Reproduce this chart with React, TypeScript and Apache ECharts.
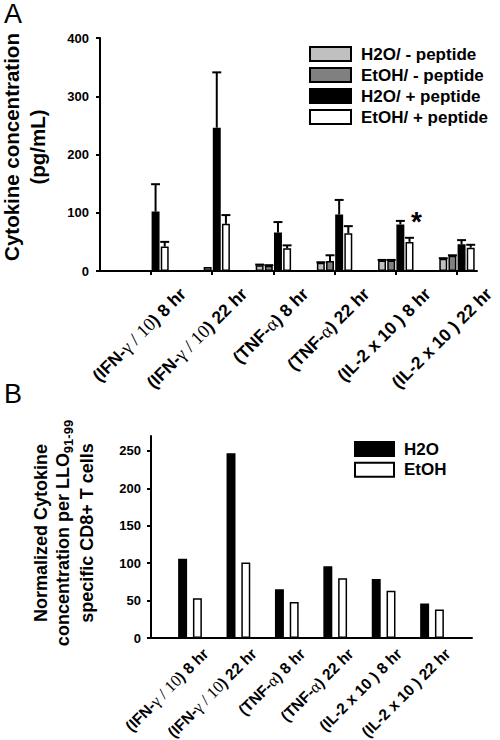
import React, { useEffect, useRef } from 'react';
import * as echarts from 'echarts';

// ---------- data ----------
const categories = [
  '(IFN-γ / 10) 8 hr',
  '(IFN-γ / 10) 22 hr',
  '(TNF-α) 8 hr',
  '(TNF-α) 22 hr',
  '(IL-2 x 10 ) 8 hr',
  '(IL-2 x 10 ) 22 hr',
];
const categoryIndex = [1, 2, 3, 4, 5, 6];

const seriesNamesA = ['H2O/ - peptide', 'EtOH/ - peptide', 'H2O/ + peptide', 'EtOH/ + peptide'];
const h2oNoPeptide = [1, 1, 10, 14, 18, 21];
const h2oNoPeptideErr = [1, 1, 11, 15, 19, 22];
const etohNoPeptide = [1, 7, 9, 17, 18, 26];
const etohNoPeptideErr = [1, 7, 10, 27, 19, 27];
const h2oPeptide = [102, 246, 66, 97, 80, 46];
const h2oPeptideErr = [149, 341, 84, 122, 86, 53];
const etohPeptide = [42, 81, 39, 65, 50, 40];
const etohPeptideErr = [50, 96, 44, 77, 57, 45];
const yTicksA = [0, 100, 200, 300, 400];
const significantIndex = 4;

const seriesNamesB = ['H2O', 'EtOH'];
const normH2O = [106, 247, 65, 96, 79, 46];
const normEtOH = [53, 101, 48, 80, 63, 38];
const yTicksB = [0, 50, 100, 150, 200, 250];

// ---------- styles / layout ----------
const SANS = 'Liberation Sans';
const SERIF = 'Liberation Serif';
const colorsA = ['#c0c0c0', '#808080', '#000000', '#ffffff'];
const colorsB = ['#000000', '#ffffff'];
const BAR_W_A = 0.13;
const BAR_GAP_A = 0.15;

// panel A x scale: 61.2 px per category, first category 51 px from the y axis
const A_MIN = 0.1667;
const A_MAX = 6.327;
const A_LABEL_SHIFT = 0.52; // labels sit about half a category right of their tick
// panel B x scale: 48.4 px per category
const B_MIN = 0.194;
const B_MAX = 6.826;
const B_LABEL_SHIFT = 0.32;

const richLabel = (s: string) => '{b|' + s.replace(/(γ \/ 10|α)/, '}{s|$1}{b|') + '}';
const makeRich = (size: number) => ({
  b: { fontFamily: SANS, fontWeight: 'bold', fontSize: size, color: '#000' },
  s: { fontFamily: SERIF, fontWeight: 'normal', fontSize: size + 1, color: '#000' },
});
const axisLineStyle = { color: '#000', width: 2 };

const valuesA = [h2oNoPeptide, etohNoPeptide, h2oPeptide, etohPeptide];
const errsA = [h2oNoPeptideErr, etohNoPeptideErr, h2oPeptideErr, etohPeptideErr];

const errData: number[][] = [];
valuesA.forEach((vals, j) => {
  vals.forEach((v, i) => {
    if (errsA[j][i] > v) errData.push([categoryIndex[i], v, errsA[j][i], j]);
  });
});

const barSeriesA = seriesNamesA.map((name, j) => ({
  name,
  type: 'bar',
  xAxisIndex: 0,
  yAxisIndex: 0,
  barWidth: BAR_W_A * 100 + '%',
  barGap: BAR_GAP_A * 100 + '%',
  itemStyle: { color: colorsA[j], borderColor: '#000', borderWidth: 1.5 },
  data: valuesA[j].map((v, i) => {
    const item: any = { value: [categoryIndex[i], v] };
    if (j === 3 && i === significantIndex) {
      item.label = {
        show: true,
        position: 'top',
        formatter: '*',
        fontFamily: SANS,
        fontWeight: 'bold',
        fontSize: 28,
        color: '#000',
        offset: [7, -1],
      };
    }
    return item;
  }),
}));

const barSeriesB = seriesNamesB.map((name, j) => ({
  name,
  type: 'bar',
  xAxisIndex: 1,
  yAxisIndex: 1,
  barWidth: '18.5%',
  barGap: '65%',
  itemStyle: { color: colorsB[j], borderColor: '#000', borderWidth: 1.5 },
  data: [normH2O, normEtOH][j].map((v, i) => [categoryIndex[i], v]),
}));

const errorSeries = {
  type: 'custom',
  xAxisIndex: 0,
  yAxisIndex: 0,
  z: 5,
  encode: { x: 0, y: [1, 2] },
  data: errData,
  renderItem: (params: any, api: any) => {
    const x = api.value(0);
    const v = api.value(1);
    const e = api.value(2);
    const j = api.value(3);
    const band = api.size([1, 0])[0];
    const bw = band * BAR_W_A;
    const step = bw * (1 + BAR_GAP_A);
    const off = (j - 1.5) * step;
    const p0 = api.coord([x, v]);
    const p1 = api.coord([x, e]);
    const cx = p0[0] + off;
    return {
      type: 'group',
      children: [
        { type: 'line', shape: { x1: cx, y1: p0[1], x2: cx, y2: p1[1] }, style: { stroke: '#000', lineWidth: 2 } },
        { type: 'line', shape: { x1: cx - bw / 2 - 0.5, y1: p1[1], x2: cx + bw / 2 + 0.5, y2: p1[1] }, style: { stroke: '#000', lineWidth: 2 } },
      ],
    };
  },
};

const legendText = { fontFamily: SANS, fontSize: 17, fontWeight: 'bold', color: '#000', padding: [0, 0, 0, 5] };
const titleStyle = (size: number) => ({
  font: `bold ${size}px "Liberation Sans"`,
  fill: '#000',
  align: 'center',
  verticalAlign: 'middle',
  textAlign: 'center',
  textVerticalAlign: 'middle',
});

// label grids: same scale as the bar grids, but extended to the right so shifted labels stay in range
const A_PX = 377 / (A_MAX - A_MIN);
const B_PX = 321 / (B_MAX - B_MIN);
const A_LABEL_MIN = A_MIN - A_LABEL_SHIFT;
const A_LABEL_MAX = A_LABEL_MIN + 440 / A_PX;
const B_LABEL_MIN = B_MIN - B_LABEL_SHIFT;
const B_LABEL_MAX = B_LABEL_MIN + 369 / B_PX;

const hiddenAxis = {
  axisLine: { show: false },
  axisTick: { show: false },
  splitLine: { show: false },
};

const option: any = {
  animation: false,
  textStyle: { fontFamily: SANS },
  grid: [
    { left: 100, right: 23, top: 38, bottom: 469, outerBoundsMode: 'none' },
    { left: 151, right: 28, top: 436, bottom: 102, outerBoundsMode: 'none' },
    { left: 100, right: -40, top: 38, bottom: 469, outerBoundsMode: 'none' },
    { left: 151, right: -20, top: 436, bottom: 102, outerBoundsMode: 'none' },
  ],
  legend: [
    {
      data: seriesNamesA,
      orient: 'vertical',
      left: 309,
      top: 45.5,
      padding: 0,
      itemWidth: 41,
      itemHeight: 14,
      itemGap: 4,
      icon: 'rect',
      selectedMode: false,
      textStyle: legendText,
    },
    {
      data: seriesNamesB,
      orient: 'vertical',
      left: 354,
      top: 440.5,
      padding: 0,
      itemWidth: 39,
      itemHeight: 14,
      itemGap: 3.7,
      icon: 'rect',
      selectedMode: false,
      textStyle: legendText,
    },
  ],
  xAxis: [
    {
      gridIndex: 0,
      type: 'value',
      position: 'bottom',
      min: A_MIN,
      max: A_MAX,
      axisLine: { show: true, onZero: false, lineStyle: axisLineStyle },
      axisTick: { show: true, customValues: categoryIndex, length: 4, lineStyle: axisLineStyle },
      axisLabel: { show: false },
      splitLine: { show: false },
    },
    {
      gridIndex: 1,
      type: 'value',
      position: 'bottom',
      min: B_MIN,
      max: B_MAX,
      axisLine: { show: true, onZero: false, lineStyle: axisLineStyle },
      axisTick: { show: false },
      axisLabel: { show: false },
      splitLine: { show: false },
    },
    {
      gridIndex: 2,
      type: 'value',
      position: 'bottom',
      min: A_LABEL_MIN,
      max: A_LABEL_MAX,
      ...hiddenAxis,
      axisLabel: {
        customValues: categoryIndex,
        formatter: (v: number) => richLabel(categories[Math.round(v) - 1]),
        rotate: 45,
        margin: 20,
        rich: makeRich(17.5),
      },
    },
    {
      gridIndex: 3,
      type: 'value',
      position: 'bottom',
      min: B_LABEL_MIN,
      max: B_LABEL_MAX,
      ...hiddenAxis,
      axisLabel: {
        customValues: categoryIndex,
        formatter: (v: number) => richLabel(categories[Math.round(v) - 1]),
        rotate: 45,
        margin: 13,
        rich: makeRich(15.5),
      },
    },
  ],
  yAxis: [
    {
      gridIndex: 0,
      type: 'value',
      min: 0,
      max: 400,
      interval: 100,
      axisLine: { show: true, onZero: false, lineStyle: axisLineStyle },
      axisTick: { show: true, customValues: yTicksA, length: 4, lineStyle: axisLineStyle },
      axisLabel: { customValues: yTicksA, fontFamily: SANS, fontSize: 13, fontWeight: 'bold', color: '#000', margin: 11 },
      splitLine: { show: false },
    },
    {
      gridIndex: 1,
      type: 'value',
      min: 0,
      max: 270,
      axisLine: { show: true, onZero: false, lineStyle: axisLineStyle },
      axisTick: { show: true, customValues: yTicksB, length: 4, lineStyle: axisLineStyle },
      axisLabel: { customValues: yTicksB, fontFamily: SANS, fontSize: 13, fontWeight: 'bold', color: '#000', margin: 10 },
      splitLine: { show: false },
    },
    { gridIndex: 2, type: 'value', min: 0, max: 400, show: false },
    { gridIndex: 3, type: 'value', min: 0, max: 270, show: false },
  ],
  series: [...barSeriesA, errorSeries, ...barSeriesB],
  graphic: [
    { type: 'text', x: 4, y: 0, style: { text: 'A', font: '27px "Liberation Sans"', fill: '#000' } },
    { type: 'text', x: 4, y: 380, style: { text: 'B', font: '27px "Liberation Sans"', fill: '#000' } },
    { type: 'text', x: 11, y: 147, rotation: Math.PI / 2, style: { text: 'Cytokine concentration', ...titleStyle(20.5) } },
    { type: 'text', x: 37, y: 147, rotation: Math.PI / 2, style: { text: '(pg/mL)', ...titleStyle(20.5) } },
    { type: 'text', x: 41, y: 533, rotation: Math.PI / 2, style: { text: 'Normalized Cytokine', ...titleStyle(18) } },
    {
      type: 'text', x: 63, y: 533, rotation: Math.PI / 2,
      style: {
        text: '{b|concentration per LLO}{s|91-99}',
        fill: '#000', align: 'center', verticalAlign: 'middle', textAlign: 'center', textVerticalAlign: 'middle',
        rich: {
          b: { fontFamily: SANS, fontWeight: 'bold', fontSize: 18, lineHeight: 23, fill: '#000' },
          s: { fontFamily: SANS, fontWeight: 'bold', fontSize: 13, verticalAlign: 'bottom', fill: '#000' },
        },
      },
    },
    { type: 'text', x: 87, y: 533, rotation: Math.PI / 2, style: { text: 'specific CD8+ T cells', ...titleStyle(18) } },
  ],
};

export default function App() {
  const ref = useRef<HTMLDivElement>(null);
  useEffect(() => {
    const chart = echarts.init(ref.current!, null, { renderer: 'svg' });
    chart.setOption(option);
    return () => chart.dispose();
  }, []);
  return (
    <div
      ref={ref}
      style={{ position: 'fixed', left: 0, top: 0, width: 500, height: 740, background: '#fff' }}
    />
  );
}
